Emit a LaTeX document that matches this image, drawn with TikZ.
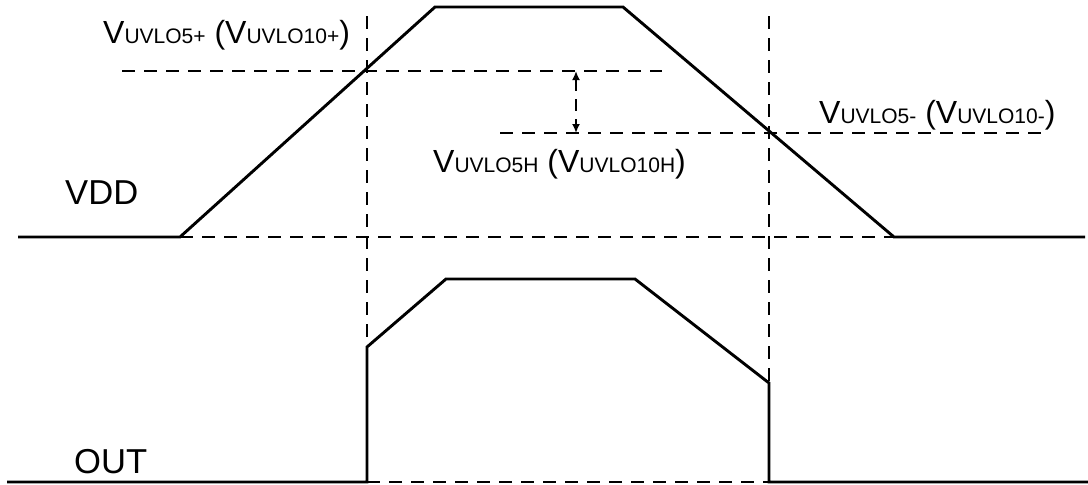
\documentclass[tikz,border=0pt]{standalone}
\usepackage{fontspec}
\setmainfont{Liberation Sans}
\usepackage{tikz}
\usetikzlibrary{arrows.meta, positioning}
\newcommand{\bigtxt}{\fontsize{32}{32}\selectfont}
\newcommand{\uvlo}[1]{{\fontsize{21}{21}\selectfont #1}}
\begin{document}
\begin{tikzpicture}[x=1pt, y=-1pt, >=Latex]
        \tikzstyle{wave} = [draw=black, line width=2.9pt, line join=miter]
        \tikzstyle{guide} = [draw=black, line width=2.8pt, dash pattern=on 13pt off 9pt]
        \tikzstyle{sig} = [anchor=base west, inner sep=0pt, font=\fontsize{34.6}{34.6}\selectfont]
        \tikzstyle{thr} = [anchor=base west, inner sep=0pt, font=\bigtxt]
        \useasboundingbox (0,0) rectangle (1088,485);

        % VDD corner points
        \coordinate (vddL) at (18,237);
        \coordinate (vddA) at (180,237);
        \coordinate (vddB) at (435,7);
        \coordinate (vddC) at (623,7);
        \coordinate (vddD) at (894,237);
        \coordinate (vddR) at (1085,237);
        % OUT corner points
        \coordinate (outL) at (7,482);
        \coordinate (outA) at (367,482);
        \coordinate (outB) at (367,347);
        \coordinate (outC) at (446,279);
        \coordinate (outD) at (635,279);
        \coordinate (outE) at (769,383);
        \coordinate (outF) at (769,482);
        \coordinate (outR) at (1088,482);
        % hysteresis arrow ends
        \coordinate (hysTop) at (576,71);
        \coordinate (hysBot) at (576,133);

        \path [guide] (367,16) -- (367,480);
        \path [guide] (769,16) -- (769,480);
        \path [guide] (122,71) -- (662,71);
        \path [guide] (500,133) -- (1043,133);
        \path [guide] (vddA) -- (vddD);
        \path [guide] (outA) -- (outF);
        \path [draw, line width=2.2pt, dash pattern=on 12pt off 8pt, {Latex[length=9pt,width=8pt]}-{Latex[length=9pt,width=8pt]}] (hysTop) -- (hysBot);

        \path [wave] (vddL) -- (vddA) -- (vddB) -- (vddC) -- (vddD) -- (vddR);
        \path [wave] (outL) -- (outA) -- (outB) -- (outC) -- (outD) -- (outE) -- (outF) -- (outR);

        \node [sig] (vdd) at (65,204) {VDD};
        \node [sig] (out) at (74,473) {OUT};
        \node [thr] (uvloP) at (103,43) {V\uvlo{UVLO5+} (V\uvlo{UVLO10+})};
        \node [thr] (uvloH) at (433,172) {V\uvlo{UVLO5H} (V\uvlo{UVLO10H})};
        \node [thr] (uvloM) at (819,123) {V\uvlo{UVLO5-} (V\uvlo{UVLO10-})};
    \end{tikzpicture}
\end{document}
